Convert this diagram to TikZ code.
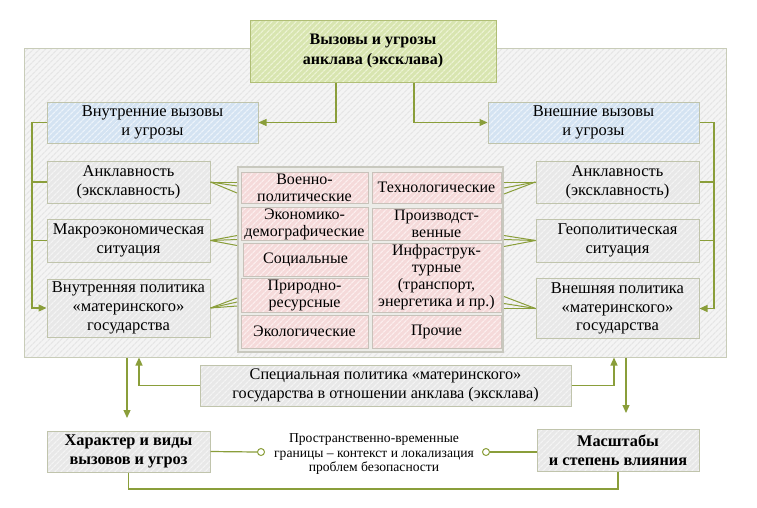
\documentclass[tikz,border=0pt]{standalone}
\usepackage{fontspec}
\setmainfont{Liberation Serif}
\usetikzlibrary{patterns.meta,arrows.meta,calc}

\definecolor{conncol}{RGB}{138,158,58}
\definecolor{outerfill}{RGB}{244,244,244}
\definecolor{outerline}{RGB}{230,230,230}
\definecolor{outerborder}{RGB}{200,204,184}
\definecolor{titlefill}{RGB}{216,229,176}
\definecolor{titleline}{RGB}{236,243,212}
\definecolor{titleborder}{RGB}{176,190,118}
\definecolor{bluefill}{RGB}{212,227,242}
\definecolor{blueline}{RGB}{236,243,250}
\definecolor{grayfill}{RGB}{232,232,232}
\definecolor{grayline}{RGB}{244,244,244}
\definecolor{boxborder}{RGB}{192,196,172}
\definecolor{pinkfill}{RGB}{245,218,218}
\definecolor{pinkline}{RGB}{252,238,238}
\definecolor{pinkborder}{RGB}{200,194,186}
\definecolor{gridfill}{RGB}{236,236,232}
\definecolor{gridborder}{RGB}{200,200,190}

\begin{document}
\begin{tikzpicture}[x=1pt,y=-1pt,
  hfill/.style 2 args={preaction={fill=#1},
    preaction={pattern={Lines[angle=45,distance=4pt,line width=1.3pt]},pattern color=#2}},
  base/.style={rectangle, line width=1pt, inner sep=1pt, align=center,
    font=\fontsize{16.5}{18.8}\selectfont},
  graybox/.style={base, draw=boxborder, hfill={grayfill}{grayline}},
  bluebox/.style={base, draw=boxborder, hfill={bluefill}{blueline}},
  titlebox/.style={base, draw=titleborder, hfill={titlefill}{titleline},
    font=\fontsize{16}{20}\selectfont\bfseries},
  boldbox/.style={graybox, font=\fontsize{16.3}{18.5}\selectfont\bfseries},
  cell/.style={base, draw=pinkborder, hfill={pinkfill}{pinkline},
    font=\fontsize{16}{17}\selectfont},
  conn/.style={draw=conncol, line width=1.2pt},
  arr/.style={conn, -{Triangle[length=8pt,width=7pt]}},
  dot/.style={circle, draw=conncol, line width=1pt, fill=white, minimum size=7pt, inner sep=0pt}
]
\useasboundingbox (0,0) rectangle (757,507);
\fill[white] (0,0) rectangle (757,507);

% outer region
\node[rectangle, draw=outerborder, line width=1pt, hfill={outerfill}{outerline},
  minimum width=702pt, minimum height=309pt] (outer) at (375,202.5) {};

% title
\node[titlebox, minimum width=246pt, minimum height=62pt] (title) at (373,51)
  {Вызовы и угрозы\\анклава (эксклава)};

% second level
\node[bluebox, minimum width=211pt, minimum height=41pt] (inner) at (152.5,122.5)
  {Внутренние вызовы\\и угрозы};
\node[bluebox, minimum width=211pt, minimum height=41pt] (extern) at (593.5,122.5)
  {Внешние вызовы\\и угрозы};

% left column
\node[graybox, minimum width=163pt, minimum height=42pt] (anL) at (128.5,182)
  {Анклавность\\(эксклавность)};
\node[graybox, minimum width=163pt, minimum height=43pt] (makro) at (128.5,240.5)
  {Макроэкономическая\\ситуация};
\node[graybox, minimum width=163pt, minimum height=58pt] (vnpol) at (128.5,308)
  {Внутренняя политика\\«материнского»\\государства};

% right column
\node[graybox, minimum width=163pt, minimum height=42pt] (anR) at (617.5,182)
  {Анклавность\\(эксклавность)};
\node[graybox, minimum width=163pt, minimum height=43pt] (geo) at (617.5,240.5)
  {Геополитическая\\ситуация};
\node[graybox, minimum width=163pt, minimum height=60pt] (vshpol) at (617.5,308.5)
  {Внешняя политика\\«материнского»\\государства};

% central grid
\node[rectangle, draw=gridborder, line width=2pt, fill=gridfill,
  minimum width=265pt, minimum height=185pt] (grid) at (370.5,259.5) {};
\node[cell, minimum width=127pt, minimum height=31pt] (c11) at (304.5,187.5) {Военно-\\политические};
\node[cell, minimum width=127pt, minimum height=32pt] (c21) at (304.5,224) {Экономико-\\демографические};
\node[cell, minimum width=125pt, minimum height=33pt] (c31) at (305.5,259.5) {Социальные};
\node[cell, minimum width=127pt, minimum height=34pt] (c41) at (304.5,295) {Природно-\\ресурсные};
\node[cell, minimum width=127pt, minimum height=33pt] (c51) at (304.5,331.5) {Экологические};
\node[cell, minimum width=129pt, minimum height=31pt] (c12) at (436.5,187.5) {Технологические};
\node[cell, minimum width=129pt, minimum height=32pt] (c22) at (436.5,224) {Производст-\\венные};
\node[cell, minimum width=129pt, minimum height=69pt] (c32) at (436.5,277.5) {Инфраструк-\\турные\\(транспорт,\\энергетика и пр.)};
\node[cell, minimum width=129pt, minimum height=33pt] (c52) at (436.5,331.5) {Прочие};

% bottom
\node[graybox, minimum width=371pt, minimum height=41pt, font=\fontsize{16.2}{18.5}\selectfont] (spec) at (385.5,385.5)
  {Специальная политика «материнского»\\государства в отношении анклава (эксклава)};
\node[boldbox, minimum width=163pt, minimum height=41pt] (har) at (128.5,451.5)
  {Характер и виды\\вызовов и угроз};
\node[boldbox, minimum width=162pt, minimum height=42pt] (masht) at (618,450)
  {Масштабы\\и степень влияния};
\node[align=center, inner sep=0pt, font=\fontsize{13.6}{14.6}\selectfont] (mid) at (374,454)
  {Пространственно-временные\\границы – контекст и локализация\\проблем безопасности};
\node[dot] (d1) at (261,452) {};
\node[dot] (d2) at (486,452) {};

% helper coordinates
\coordinate (lx) at (32,0);
\coordinate (rx) at (714,0);
\coordinate (la) at (127,418);
\coordinate (lb) at (139,0);
\coordinate (rb) at (614,0);
\coordinate (ra) at (626,413);
\coordinate (bt) at (0,489);

% title connectors
\draw[arr] ([xshift=-37pt]title.south) |- (inner.east);
\draw[arr] ([xshift=41pt]title.south) |- (extern.west);

% left bracket
\draw[arr] (inner.west) -- (inner.west -| lx) -- (lx |- vnpol.west) -- (vnpol.west);
\draw[conn] (lx |- anL.west) -- (anL.west);
\draw[conn] (lx |- makro.west) -- (makro.west);

% right bracket
\draw[arr] (extern.east) -- (extern.east -| rx) -- (rx |- vshpol.east) -- (vshpol.east);
\draw[conn] (rx |- anR.east) -- (anR.east);
\draw[conn] (rx |- geo.east) -- (geo.east);

% fans left
\foreach \o in {0,4,11} \draw[conn, line width=1pt] (anL.east) -- ($(grid.west |- anL.east)+(0,\o)$);
\foreach \o in {-5,-1,5} \draw[conn, line width=1pt] (makro.east) -- ($(grid.west |- makro.east)+(0,\o)$);
\foreach \o in {-10,-6,-2} \draw[conn, line width=1pt] (vnpol.east) -- ($(grid.west |- vnpol.east)+(0,\o)$);
% fans right
\foreach \o in {0,6,12} \draw[conn, line width=1pt] (anR.west) -- ($(grid.east |- anR.west)+(0,\o)$);
\foreach \o in {-5,-1,6} \draw[conn, line width=1pt] (geo.west) -- ($(grid.east |- geo.west)+(0,\o)$);
\foreach \o in {-12,-5,0} \draw[conn, line width=1pt] (vshpol.west) -- ($(grid.east |- vshpol.west)+(0,\o)$);

% bottom connectors
\draw[arr] (outer.south -| la) -- (la);
\draw[arr] (outer.south -| ra) -- (ra);
\draw[arr] (spec.west) -| (outer.south -| lb);
\draw[arr] (spec.east) -| (outer.south -| rb);
\draw[conn] (har.east) -- (d1.west);
\draw[conn] (d2.east) -- (masht.west |- d2.east);
\draw[conn] (har.south) -- (har.south |- bt) -| (masht.south);
\end{tikzpicture}
\end{document}
